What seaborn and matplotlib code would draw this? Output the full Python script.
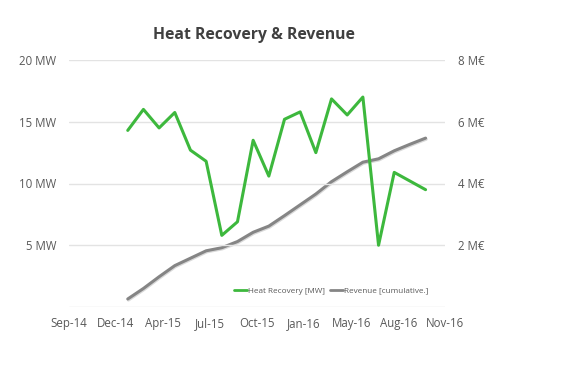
import numpy as np
import pandas as pd
import matplotlib
matplotlib.use("Agg")
import matplotlib.pyplot as plt
import matplotlib.patheffects as pe
from matplotlib.lines import Line2D
import seaborn as sns

# Month offsets from the Sep-14 tick (monthly data, Dec-14 .. Jul-16)
month_pos = [3.75, 4.75, 5.75, 6.75, 7.75, 8.75, 9.75, 10.75, 11.75, 12.75,
             13.75, 14.75, 15.75, 16.75, 17.75, 18.75, 19.75, 20.75, 21.75, 22.75]
heat_mw = [14.3, 16.0, 14.5, 15.75, 12.7, 11.8, 5.8, 6.9, 13.5, 10.6,
           15.2, 15.8, 12.5, 16.85, 15.55, 17.0, 5.0, 10.9, 10.2, 9.5]
revenue_meur = [0.26, 0.6, 0.98, 1.34, 1.58, 1.82, 1.92, 2.12, 2.42, 2.62,
                2.96, 3.31, 3.66, 4.06, 4.38, 4.69, 4.8, 5.06, 5.27, 5.47]
x_tick_pos = [0, 3, 6, 9, 12, 15, 18, 21, 24]
x_tick_labels = ["Sep-14", "Dec-14", "Apr-15", "Jul-15", "Oct-15", "Jan-16",
                 "May-16", "Aug-16", "Nov-16"]
left_ticks = [5, 10, 15, 20]
left_labels = ["5 MW", "10 MW", "15 MW", "20 MW"]
right_ticks = [2, 4, 6, 8]
right_labels = ["2 M€", "4 M€", "6 M€", "8 M€"]
series_names = ["Heat Recovery [MW]", "Revenue [cumulative.]"]

df = pd.DataFrame({"x": month_pos, "heat": heat_mw, "rev": revenue_meur})

sns.set_theme(style="white")
plt.rcParams["font.family"] = ["Open Sans", "DejaVu Sans"]

green = "#3db83d"
grey = "#858585"
label_col = "#595959"

fig = plt.figure(figsize=(5.7, 3.67), dpi=100)
ax1 = fig.add_axes([0.121, 0.1635, 0.66, 0.673])
ax2 = ax1.twinx()

sns.lineplot(data=df, x="x", y="rev", ax=ax2, color=grey, linewidth=2.2,
             legend=False)
ax2.lines[0].set_path_effects([pe.SimpleLineShadow(offset=(0.5, -0.8), alpha=0.15, shadow_color="black"),
                               pe.Normal()])
sns.lineplot(data=df, x="x", y="heat", ax=ax1, color=green, linewidth=2.2,
             legend=False)

ax1.set_zorder(ax2.get_zorder() + 1)
ax1.patch.set_visible(False)

ax1.set_xlim(0, 24)
ax1.set_ylim(0, 20)
ax2.set_ylim(0, 8)

ax1.set_xticks(x_tick_pos)
ax1.set_xticklabels(x_tick_labels)
ax1.set_yticks([0] + left_ticks)
ax1.set_yticklabels([""] + left_labels)
ax2.set_yticks([0] + right_ticks)
ax2.set_yticklabels([""] + right_labels)

for ax in (ax1, ax2):
    for s in ax.spines.values():
        s.set_visible(False)
    ax.tick_params(length=0, labelsize=8.3, colors=label_col)
    ax.set_xlabel("")
    ax.set_ylabel("")
ax1.tick_params(axis="y", pad=9)
ax2.tick_params(axis="y", pad=9)
ax1.tick_params(axis="x", pad=7)
ax1.yaxis.grid(True, color="#e3e3e3", linewidth=1)
ax1.set_axisbelow(True)

handles = [Line2D([], [], color=green, linewidth=2),
           Line2D([], [], color=grey, linewidth=2)]
leg = ax1.legend(handles, series_names, loc="lower right", bbox_to_anchor=(0.975, 0.02),
                 ncol=2, frameon=False, fontsize=5.9, handlelength=1.5,
                 handletextpad=0.15, columnspacing=0.7, labelcolor=label_col)

fig.text(0.445, 0.905, "Heat Recovery & Revenue", ha="center", va="center",
         fontsize=11.3, fontweight="bold", color="#404040")

fig.savefig("out.png", dpi=100, facecolor="white")
